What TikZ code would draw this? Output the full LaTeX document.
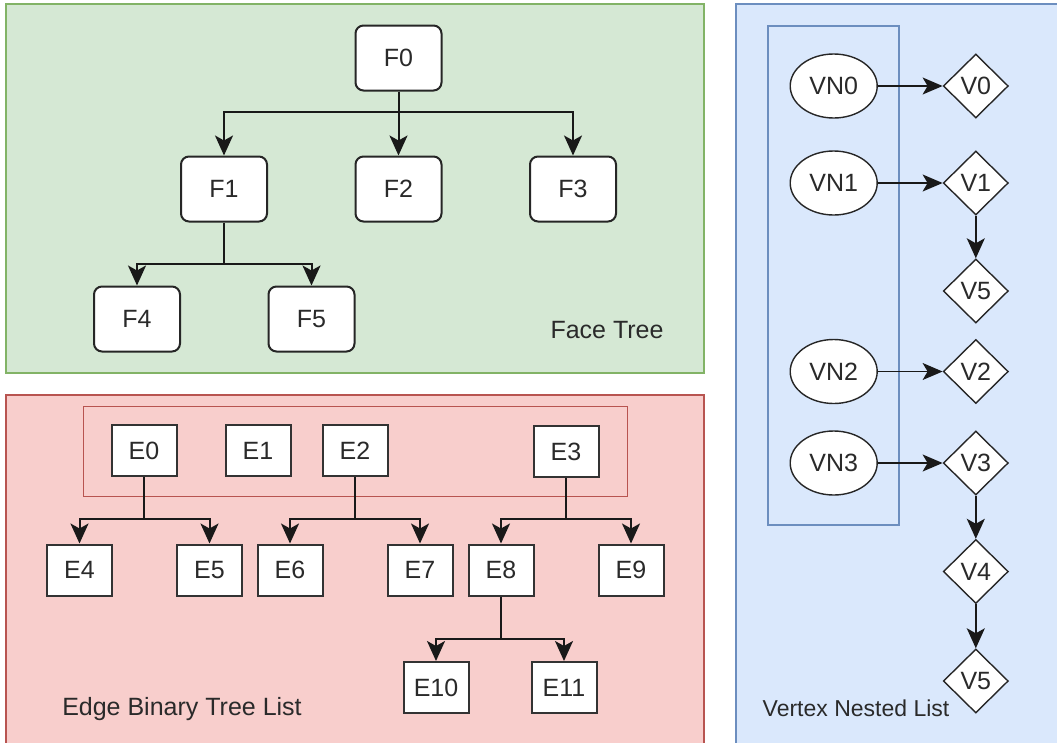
\documentclass[tikz,border=0pt]{standalone}
\usepackage{fontspec}
\setmainfont{Liberation Sans}
\usetikzlibrary{arrows.meta,shapes.geometric}
\definecolor{gfill}{HTML}{D5E8D4}\definecolor{gline}{HTML}{82B366}
\definecolor{rfill}{HTML}{F8CECC}\definecolor{rline}{HTML}{B85450}
\definecolor{bfill}{HTML}{DAE8FC}\definecolor{bline}{HTML}{6C8EBF}
\definecolor{txt}{HTML}{2A2A2A}
\begin{document}
\begin{tikzpicture}[x=1pt,y=-1pt,
  font=\fontsize{25}{30}\selectfont, text=txt,
  fbox/.style={draw=black!85, fill=white, rounded corners=8pt, line width=2pt, minimum width=86pt, minimum height=65pt, inner sep=0pt},
  ebox/.style={draw=black!80, fill=white, line width=2pt, minimum width=65pt, minimum height=51pt, inner sep=0pt},
  vn/.style={ellipse, draw=black!85, fill=white, line width=1.4pt, minimum width=87pt, minimum height=64pt, inner sep=0pt},
  vd/.style={diamond, draw=black!85, fill=white, line width=1.4pt, minimum width=65pt, minimum height=64pt, inner sep=0pt},
  arr/.style={draw=black!90, -{Stealth[length=20pt,width=18pt,inset=5pt]}, line width=2pt},
  thinarr/.style={draw=black!90, -{Stealth[length=20pt,width=17pt,inset=5pt]}, line width=1.4pt},
  lbl/.style={inner sep=0pt}]
\useasboundingbox (0,0) rectangle (1057,742);
\clip (0,0) rectangle (1057,742);
% panels
\fill[white] (0,0) rectangle (1057,742);
\draw[fill=gfill, draw=gline, line width=1.5pt] (6,4) rectangle (704,373);
\draw[fill=rfill, draw=rline, line width=1.5pt] (6,395) rectangle (704,770);
\draw[fill=bfill, draw=bline, line width=1.5pt] (736,4) rectangle (1075,770);
\draw[draw=rline, line width=1pt] (83,406) rectangle (627,496);
\draw[draw=bline, line width=1.2pt] (768,26) rectangle (899,525);
% face tree
\node[fbox] (F0) at (398.5,58) {F0};
\node[fbox] (F1) at (224,189) {F1};
\node[fbox] (F2) at (398.5,189) {F2};
\node[fbox] (F3) at (573,189) {F3};
\node[fbox] (F4) at (137,319) {F4};
\node[fbox] (F5) at (311.5,319) {F5};
\coordinate (jf0) at (398.5,111.7);
\coordinate (jf1) at (224,264.3);
\draw[arr] (F0.south) -- (jf0) -| (F1.north);
\draw[arr] (F0.south) -- (F2.north);
\draw[arr] (jf0) -| (F3.north);
\draw[arr] (F1.south) -- (jf1) -| (F4.north);
\draw[arr] (jf1) -| (F5.north);
\node[lbl] (ft) at (607,330) {Face Tree};
% edge tree
\coordinate (je0) at (144,519.3);
\coordinate (je2) at (355,519.3);
\coordinate (je3) at (566,519.3);
\coordinate (je8) at (501,639);
\node[ebox] (E0) at (144,450.5) {E0};
\node[ebox] (E1) at (258,450.5) {E1};
\node[ebox] (E2) at (355,450.5) {E2};
\node[ebox] (E3) at (566,451.5) {E3};
\node[ebox] (E4) at (79.5,570) {E4};
\node[ebox] (E5) at (209.5,570) {E5};
\node[ebox] (E6) at (290,570) {E6};
\node[ebox] (E7) at (420,570) {E7};
\node[ebox] (E8) at (501,570) {E8};
\node[ebox] (E9) at (631,570) {E9};
\node[ebox] (E10) at (436,687.5) {E10};
\node[ebox] (E11) at (564,687.5) {E11};
\draw[arr] (E0.south) -- (je0) -| (E4.north);
\draw[arr] (je0) -| (E5.north);
\draw[arr] (E2.south) -- (je2) -| (E6.north);
\draw[arr] (je2) -| (E7.north);
\draw[arr] (E3.south) -- (je3) -| (E8.north);
\draw[arr] (je3) -| (E9.north);
\draw[arr] (E8.south) -- (je8) -| (E10.north);
\draw[arr] (je8) -| (E11.north);
\node[lbl] (et) at (182,709) {Edge Binary Tree List};
% vertex list
\node[vn] (VN0) at (833.7,86) {VN0};
\node[vn] (VN1) at (833.7,183) {VN1};
\node[vn] (VN2) at (833.7,371.5) {VN2};
\node[vn] (VN3) at (833.7,463) {VN3};
\node[vd] (V0) at (975.8,86) {V0};
\node[vd] (V1) at (975.8,183) {V1};
\node[vd] (V5a) at (975.8,291) {V5};
\node[vd] (V2) at (975.8,371.5) {V2};
\node[vd] (V3) at (975.8,463) {V3};
\node[vd] (V4) at (975.8,571.5) {V4};
\node[vd] (V5b) at (975.8,681) {V5};
\draw[thinarr] (VN0) -- (V0);
\draw[thinarr] (VN1) -- (V1);
\draw[thinarr] (VN2) -- (V2);
\draw[thinarr] (VN3) -- (V3);
\draw[arr] (V1) -- (V5a);
\draw[arr] (V3) -- (V4);
\draw[arr] (V4) -- (V5b);
\node[lbl, font=\fontsize{23}{28}\selectfont] (vt) at (856,708) {Vertex Nested List};
\end{tikzpicture}
\end{document}
